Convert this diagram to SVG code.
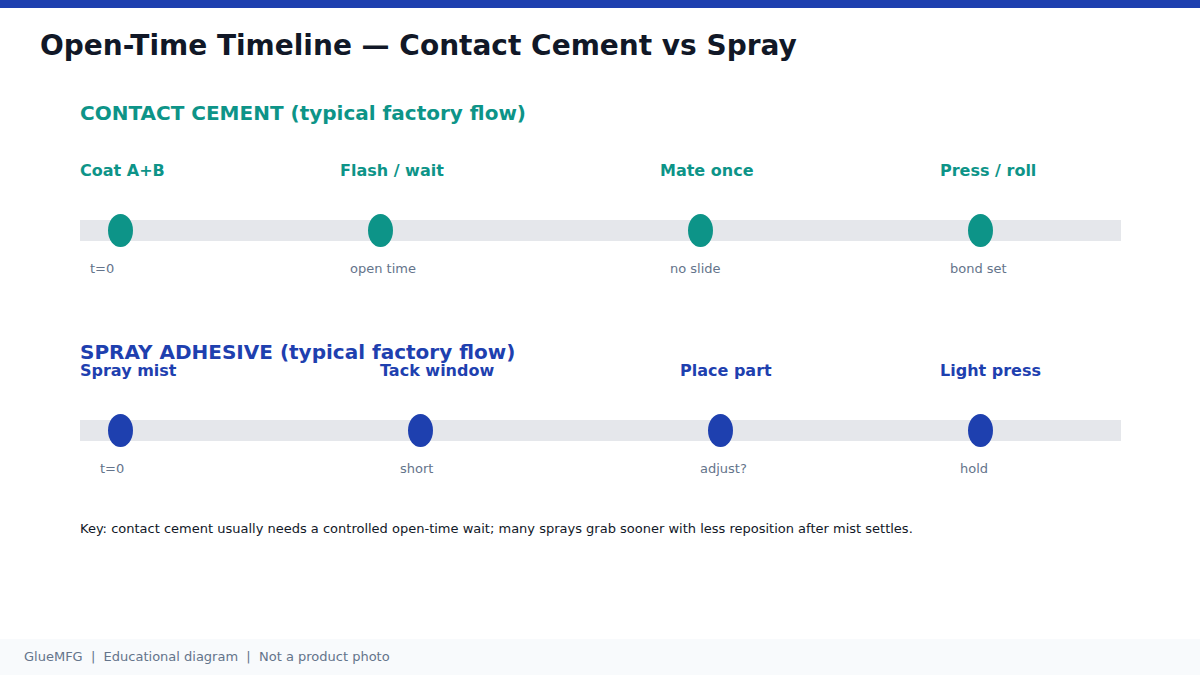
<svg xmlns="http://www.w3.org/2000/svg" width="1200" height="675" viewBox="0 0 1200 675">
<style>
text{font-family:"DejaVu Sans","Noto Sans",sans-serif}
.title{font-size:28px;font-weight:bold;fill:#111827}
.h{font-size:20px;font-weight:bold}
.lab{font-size:16px;font-weight:bold}
.sub{font-size:13px;fill:#64748b}
.teal{fill:#0d9488}
.blue{fill:#1e40af}
.bar{fill:#e5e7eb}
.key{font-size:13px;fill:#111827}
.foot{font-size:13px;fill:#64748b;white-space:pre}
</style>
<rect width="1200" height="675" fill="#ffffff"/>
<rect x="0" y="0" width="1200" height="8" fill="#1e40af"/>
<text class="title" x="40" y="55">Open-Time Timeline — Contact Cement vs Spray</text>

<g id="contact">
<text class="h teal" x="80" y="120">CONTACT CEMENT (typical factory flow)</text>
<rect class="bar" x="80" y="220" width="1041" height="21"/>
<g id="c1"><text class="lab teal" x="80" y="176">Coat A+B</text><ellipse class="teal" cx="120.5" cy="230.5" rx="12.5" ry="16.5"/><text class="sub" x="90" y="273">t=0</text></g>
<g id="c2"><text class="lab teal" x="340" y="176">Flash / wait</text><ellipse class="teal" cx="380.5" cy="230.5" rx="12.5" ry="16.5"/><text class="sub" x="350" y="273">open time</text></g>
<g id="c3"><text class="lab teal" x="660" y="176">Mate once</text><ellipse class="teal" cx="700.5" cy="230.5" rx="12.5" ry="16.5"/><text class="sub" x="670" y="273">no slide</text></g>
<g id="c4"><text class="lab teal" x="940" y="176">Press / roll</text><ellipse class="teal" cx="980.5" cy="230.5" rx="12.5" ry="16.5"/><text class="sub" x="950" y="273">bond set</text></g>
</g>

<g id="spray">
<text class="h blue" x="80" y="359">SPRAY ADHESIVE (typical factory flow)</text>
<rect class="bar" x="80" y="420" width="1041" height="21"/>
<g id="s1"><text class="lab blue" x="80" y="376">Spray mist</text><ellipse class="blue" cx="120.5" cy="430.5" rx="12.5" ry="16.5"/><text class="sub" x="100" y="473">t=0</text></g>
<g id="s2"><text class="lab blue" x="380" y="376">Tack window</text><ellipse class="blue" cx="420.5" cy="430.5" rx="12.5" ry="16.5"/><text class="sub" x="400" y="473">short</text></g>
<g id="s3"><text class="lab blue" x="680" y="376">Place part</text><ellipse class="blue" cx="720.5" cy="430.5" rx="12.5" ry="16.5"/><text class="sub" x="700" y="473">adjust?</text></g>
<g id="s4"><text class="lab blue" x="940" y="376">Light press</text><ellipse class="blue" cx="980.5" cy="430.5" rx="12.5" ry="16.5"/><text class="sub" x="960" y="473">hold</text></g>
</g>

<g id="connectors"></g>

<text class="key" x="80" y="533">Key: contact cement usually needs a controlled open-time wait; many sprays grab sooner with less reposition after mist settles.</text>

<rect x="0" y="639" width="1200" height="36" fill="#f8fafc"/>
<text class="foot" x="24" y="661" xml:space="preserve">GlueMFG  |  Educational diagram  |  Not a product photo</text>
</svg>
